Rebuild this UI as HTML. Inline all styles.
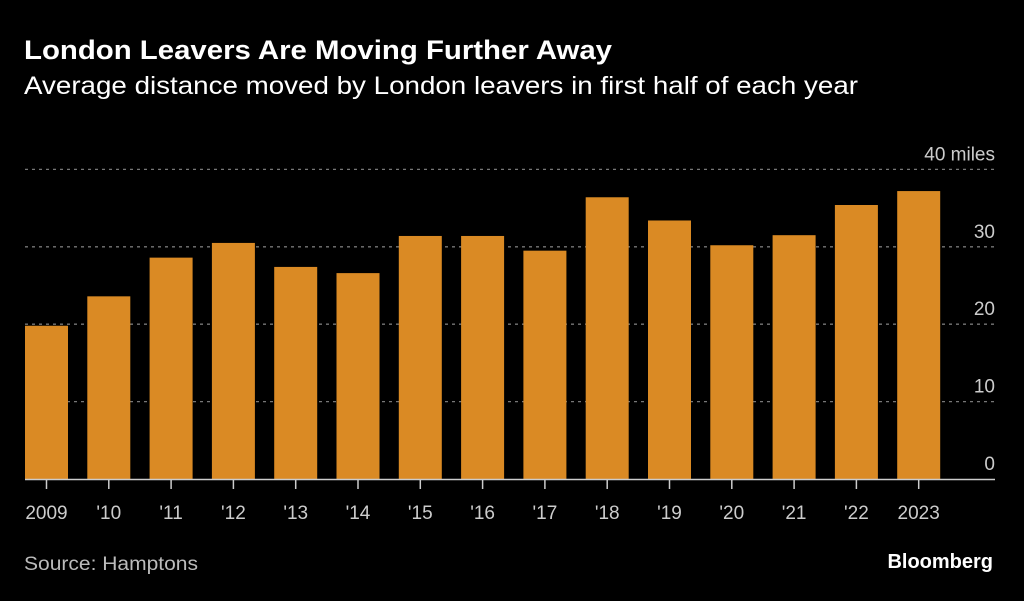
<!DOCTYPE html>
<html><head><meta charset="utf-8"><style>
body{margin:0;background:#000;width:1024px;height:596px;overflow:hidden;font-family:"Liberation Sans",sans-serif;color:#fff}
</style></head><body>
<svg width="1024" height="596">
<text x="24" y="59" font-size="27" font-weight="bold" fill="#fff" textLength="588" lengthAdjust="spacingAndGlyphs">London Leavers Are Moving Further Away</text>
<text x="24" y="94" font-size="25" fill="#fff" textLength="834" lengthAdjust="spacingAndGlyphs">Average distance moved by London leavers in first half of each year</text>
<g id="grid"></g><g id="bars"></g><g id="xaxis"></g>
<text x="24" y="570" font-size="19" fill="#bbb" textLength="174" lengthAdjust="spacingAndGlyphs">Source: Hamptons</text>
<text x="993" y="568" font-size="20" font-weight="bold" fill="#fff" text-anchor="end">Bloomberg</text>
</svg>
<script>
const categories=["2009","'10","'11","'12","'13","'14","'15","'16","'17","'18","'19","'20","'21","'22","2023"];
const values=[19.8,23.6,28.6,30.5,27.4,26.6,31.4,31.4,29.5,36.4,33.4,30.2,31.5,35.4,37.2];
const ticks=[0,10,20,30,40];
const tickLabels=["0","10","20","30","40 miles"];
const NS="http://www.w3.org/2000/svg";
const y=v=>479-v*7.74;
const x=i=>25+i*62.3;
const bw=43;
function mk(t,a,p){const e=document.createElementNS(NS,t);for(const k in a)e.setAttribute(k,a[k]);p.appendChild(e);return e;}
const g=document.getElementById('grid'),b=document.getElementById('bars'),xa=document.getElementById('xaxis');
ticks.forEach((t,i)=>{
 if(t>0){const l=mk('line',{x1:25,x2:995,y1:y(t),y2:y(t),stroke:'#777','stroke-width':1.3,'stroke-dasharray':'3,4'},g);
 
 }
 const tx=mk('text',{x:995,y:y(t)-9,'font-size':19,fill:'#ccc','text-anchor':'end'},g);
 tx.textContent=tickLabels[i];
 
 
});
values.forEach((v,i)=>{
 const r=mk('rect',{x:x(i),y:y(v),width:bw,height:479-y(v),fill:'#DA8A24'},b);
 
 
 const tk=mk('line',{x1:x(i)+bw/2,x2:x(i)+bw/2,y1:480,y2:489,stroke:'#ccc','stroke-width':1.5},xa);
 
 
 const t=mk('text',{x:x(i)+bw/2,y:519,'font-size':19,fill:'#ccc','text-anchor':'middle'},xa);
 t.textContent=categories[i];
 
 
});
const ax=mk('line',{x1:25,x2:995,y1:479.5,y2:479.5,stroke:'#ccc','stroke-width':1.5},xa);


</script>
</body></html>
